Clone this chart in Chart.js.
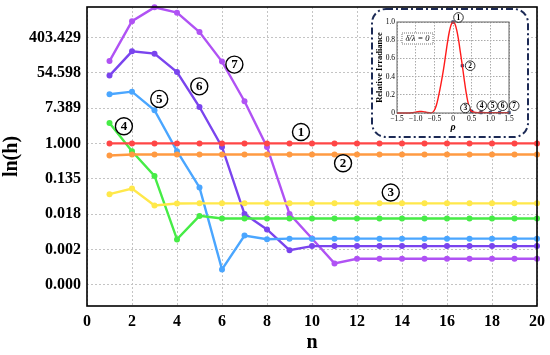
<!DOCTYPE html>
<html>
<head>
<meta charset="utf-8">
<script src="https://cdn.jsdelivr.net/npm/chart.js@4.4.1/dist/chart.umd.min.js"></script>
<style>
  html, body { margin: 0; padding: 0; background: #fff; }
  #wrap { position: relative; width: 550px; height: 355px; }
  #main { position: absolute; left: 0; top: 0; }
  #inset { position: absolute; left: 374px; top: 11px; }
</style>
</head>
<body>
<div id="wrap">
  <canvas id="main" width="550" height="355"></canvas>
  <canvas id="inset" width="152" height="124"></canvas>
</div>
<script>
// main chart data: n = 1..20, values are ln(h)
const nValues = [1,2,3,4,5,6,7,8,9,10,11,12,13,14,15,16,17,18,19,20];
const series1 = [0,0,0,0,0,0,0,0,0,0,0,0,0,0,0,0,0,0,0,0];
const series2 = [-0.68,-0.63,-0.63,-0.63,-0.63,-0.63,-0.63,-0.63,-0.63,-0.63,-0.63,-0.63,-0.63,-0.63,-0.63,-0.63,-0.63,-0.63,-0.63,-0.63];
const series3 = [-2.87,-2.55,-3.51,-3.40,-3.39,-3.39,-3.39,-3.39,-3.39,-3.39,-3.39,-3.39,-3.39,-3.39,-3.39,-3.39,-3.39,-3.39,-3.39,-3.39];
const series4 = [1.16,-0.44,-1.84,-5.43,-4.10,-4.25,-4.25,-4.25,-4.25,-4.25,-4.25,-4.25,-4.25,-4.25,-4.25,-4.25,-4.25,-4.25,-4.25,-4.25];
const series5 = [2.78,2.93,1.88,-0.44,-2.49,-7.13,-5.21,-5.42,-5.39,-5.39,-5.39,-5.39,-5.39,-5.39,-5.39,-5.39,-5.39,-5.39,-5.39,-5.39];
const series6 = [3.84,5.21,5.08,4.04,2.06,-0.20,-4.00,-4.87,-6.04,-5.81,-5.81,-5.81,-5.81,-5.81,-5.81,-5.81,-5.81,-5.81,-5.81,-5.81];
const series7 = [4.66,6.92,7.70,7.40,6.30,4.63,2.39,-0.20,-3.99,-5.38,-6.79,-6.53,-6.53,-6.53,-6.53,-6.53,-6.53,-6.53,-6.53,-6.53];
const seriesColors = ['#ff4646','#ff9a42','#ffe84a','#46ec46','#4aa6ff','#7a44ee','#b052f4'];
const yTickValues = [-8,-6,-4,-2,0,2,4,6];
const yTickLabels = ['0.000','0.002','0.018','0.135','1.000','7.389','54.598','403.429'];
// circled curve numbers (data coords)
const markText = ['1','2','3','4','5','6','7'];
const markN = [9.51,11.38,13.5,1.64,3.21,4.99,6.55];
const markLn = [0.65,-1.12,-2.78,0.97,2.52,3.23,4.46];

// inset data
const rhoCurve = [-1.5,-1.3,-1.1,-1.0,-0.9,-0.85,-0.8,-0.7,-0.6,-0.55,-0.5,-0.45,-0.4,-0.35,-0.3,-0.25,-0.2,-0.15,-0.1,-0.05,0,0.05,0.1,0.15,0.2,0.25,0.3,0.35,0.4,0.45,0.5,0.6,0.75,1.0,1.25,1.5];
const irrCurve = [0,0,0.003,0.01,0.016,0.017,0.015,0.006,0.001,0.005,0.03,0.08,0.16,0.26,0.37,0.49,0.63,0.77,0.89,0.97,1.0,0.98,0.91,0.8,0.66,0.52,0.37,0.23,0.12,0.05,0.018,0.006,0.005,0.004,0.004,0.004];
const rhoPoints = [0,0.25,0.5,0.75,1.0,1.25,1.5];
const irrPoints = [1.0,0.52,0.018,0.005,0.004,0.004,0.004];
const insetXTickLabels = ['\u22121.5','\u22121.0','\u22120.5','0','0.5','1.0','1.5'];
const insetYTickLabels = ['0','0.2','0.4','0.6','0.8','1.0'];
const insetMarkRho = [0.147,0.46,0.33,0.77,1.06,1.33,1.64];
const insetMarkVal = [1.05,0.52,0.055,0.08,0.08,0.08,0.08];

const serif = "'Liberation Serif', 'Times New Roman', serif";

function circled(ctx, x, y, r, txt, size, lw) {
  ctx.save();
  ctx.beginPath();
  ctx.arc(x, y, r, 0, Math.PI * 2);
  ctx.fillStyle = '#fff';
  ctx.fill();
  ctx.lineWidth = lw;
  ctx.strokeStyle = '#000';
  ctx.stroke();
  ctx.fillStyle = '#000';
  ctx.font = 'bold ' + size + 'px ' + serif;
  ctx.textAlign = 'center';
  ctx.textBaseline = 'middle';
  ctx.fillText(txt, x, y + 0.5);
  ctx.restore();
}

const allSeries = [series1, series2, series3, series4, series5, series6, series7];
const datasets = allSeries.map((s, i) => ({
  label: String(i + 1),
  data: nValues.map((n, j) => ({ x: n, y: s[j] })),
  borderColor: seriesColors[i],
  backgroundColor: seriesColors[i],
  borderWidth: 2.4,
  pointRadius: 3,
  pointBorderWidth: 0,
  tension: 0,
  clip: false
}));

const mainDecor = {
  id: 'mainDecor',
  afterDatasetsDraw(chart) {
    const ctx = chart.ctx;
    const a = chart.chartArea;
    const xs = chart.scales.x, ys = chart.scales.y;
    // circled numbers
    for (let i = 0; i < markText.length; i++) {
      circled(ctx, xs.getPixelForValue(markN[i]), ys.getPixelForValue(markLn[i]), 8.5, markText[i], 13, 1.4);
    }
    // inset panel
    ctx.save();
    const bx = 372, by = 9, bw = 156, bh = 128, r = 14;
    ctx.beginPath();
    ctx.roundRect(bx, by, bw, bh, r);
    ctx.fillStyle = '#fff';
    ctx.fill();
    ctx.setLineDash([7, 3, 2, 3]);
    ctx.lineWidth = 2;
    ctx.strokeStyle = '#1c2a55';
    ctx.stroke();
    ctx.restore();
    // frame
    ctx.save();
    ctx.lineWidth = 1.6;
    ctx.strokeStyle = '#000';
    ctx.strokeRect(a.left, a.top, a.right - a.left, a.bottom - a.top);
    ctx.restore();
  }
};

new Chart(document.getElementById('main').getContext('2d'), {
  type: 'line',
  data: { datasets: datasets },
  options: {
    responsive: false,
    animation: false,
    layout: { padding: { top: 7, right: 13, left: 0, bottom: 0 } },
    plugins: { legend: { display: false }, tooltip: { enabled: false } },
    scales: {
      x: {
        type: 'linear', min: 0, max: 20,
        ticks: { stepSize: 2, padding: 6, color: '#000', font: { family: serif, size: 16, weight: 'bold' } },
        grid: { color: '#c4c4c4', drawTicks: false, lineWidth: 1 },
        border: { display: false, dash: [2, 2] },
        title: { display: true, text: 'n', color: '#000', padding: 0, font: { family: serif, size: 20, weight: 'bold', lineHeight: 1.2 } },
        afterFit(s) { s.height = 49; s.paddingLeft = 0; s.paddingRight = 0; }
      },
      y: {
        type: 'linear', min: -9.2, max: 7.72,
        afterBuildTicks(s) { s.ticks = yTickValues.map(v => ({ value: v })); },
        ticks: {
          padding: 6, color: '#000', font: { family: serif, size: 16, weight: 'bold' },
          callback: v => yTickLabels[yTickValues.indexOf(v)]
        },
        grid: { color: '#c4c4c4', drawTicks: false, lineWidth: 1 },
        border: { display: false, dash: [2, 2] },
        title: { display: true, text: 'ln(h)', color: '#000', padding: 0, font: { family: serif, size: 20, weight: 'bold', lineHeight: 1.2 } },
        afterFit(s) { s.width = 87; s.paddingTop = 0; s.paddingBottom = 0; }
      }
    }
  },
  plugins: [mainDecor]
});

// inset chart
const insetDecor = {
  id: 'insetDecor',
  afterDatasetsDraw(chart) {
    const ctx = chart.ctx;
    const a = chart.chartArea;
    const xs = chart.scales.x, ys = chart.scales.y;
    ctx.save();
    ctx.lineWidth = 1;
    ctx.strokeStyle = '#666';
    ctx.strokeRect(a.left, a.top, a.right - a.left, a.bottom - a.top);
    // delta/lambda box
    const bx = a.left + 5, by = a.top + 11, bw = 31, bh = 11;
    ctx.fillStyle = '#fff';
    ctx.fillRect(bx, by, bw, bh);
    ctx.setLineDash([1, 1]);
    ctx.strokeStyle = '#777';
    ctx.strokeRect(bx, by, bw, bh);
    ctx.setLineDash([]);
    ctx.fillStyle = '#000';
    ctx.font = 'italic 8.5px ' + serif;
    ctx.textAlign = 'center';
    ctx.textBaseline = 'middle';
    ctx.fillText('\u03b4/\u03bb = 0', bx + bw / 2, by + bh / 2 + 0.5);
    ctx.restore();
    for (let i = 0; i < markText.length; i++) {
      circled(ctx, xs.getPixelForValue(insetMarkRho[i]), ys.getPixelForValue(insetMarkVal[i]), 4.8, markText[i], 7.5, 0.8);
    }
  }
};

new Chart(document.getElementById('inset').getContext('2d'), {
  type: 'line',
  data: {
    datasets: [
      {
        data: rhoCurve.map((r, i) => ({ x: r, y: irrCurve[i] })),
        borderColor: '#ff1a1a', borderWidth: 1.4, pointRadius: 0, tension: 0.35, clip: false
      },
      {
        data: rhoPoints.map((r, i) => ({ x: r, y: irrPoints[i] })),
        showLine: false, pointStyle: 'rect', pointRadius: 1.8,
        backgroundColor: '#2a4a9a', borderColor: '#10204a', borderWidth: 0.6, clip: false
      }
    ]
  },
  options: {
    responsive: false,
    animation: false,
    layout: { padding: { top: 11, right: 17, left: 0, bottom: 0 } },
    plugins: { legend: { display: false }, tooltip: { enabled: false } },
    scales: {
      x: {
        type: 'linear', min: -1.5, max: 1.5,
        ticks: {
          stepSize: 0.5, padding: 2, color: '#000', maxRotation: 0, autoSkip: false,
          font: { family: serif, size: 7.5 },
          callback: (v) => insetXTickLabels[Math.round((v + 1.5) / 0.5)]
        },
        grid: { color: '#aaa', drawTicks: false },
        border: { display: false, dash: [1.5, 1.5] },
        title: { display: true, text: '\u03c1', color: '#000', padding: { top: 0, bottom: 2 }, font: { family: serif, size: 10, style: 'italic', weight: 'bold', lineHeight: 1.2 } },
        afterFit(s) { s.height = 22; s.paddingLeft = 0; s.paddingRight = 0; }
      },
      y: {
        type: 'linear', min: 0, max: 1,
        ticks: {
          stepSize: 0.2, padding: 2, color: '#000',
          font: { family: serif, size: 7.5 },
          callback: (v) => insetYTickLabels[Math.round(v / 0.2)]
        },
        grid: { color: '#aaa', drawTicks: false },
        border: { display: false, dash: [1.5, 1.5] },
        title: { display: true, text: 'Relative Irradiance', color: '#000', padding: { top: 1, bottom: 0 }, font: { family: serif, size: 8.5, weight: 'bold', lineHeight: 1.2 } },
        afterFit(s) { s.width = 23; s.paddingTop = 0; s.paddingBottom = 0; }
      }
    }
  },
  plugins: [insetDecor]
});
</script>
</body>
</html>
